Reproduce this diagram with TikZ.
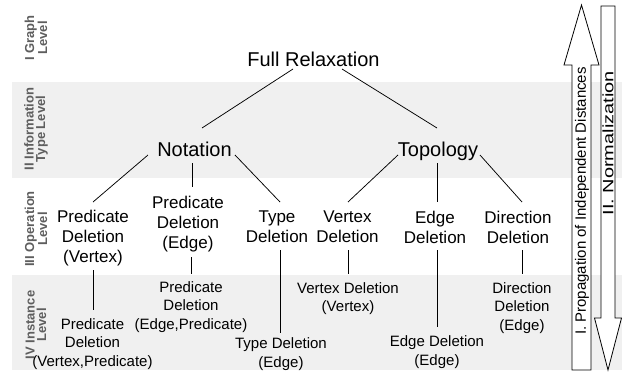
\documentclass[tikz,border=0pt]{standalone}
\usepackage{fontspec}
\setmainfont{Liberation Sans}
\definecolor{bandfill}{HTML}{F0F0F0}
\definecolor{levelgray}{HTML}{5E5E5E}
\begin{document}
\begin{tikzpicture}[x=1pt,y=-1pt,
  toplabel/.style={font=\fontsize{20}{24}\selectfont, inner sep=0pt, text height=14.4pt, text depth=4.2pt},
  oplabel/.style={font=\fontsize{17}{20}\selectfont, align=center, inner sep=0pt},
  instlabel/.style={font=\fontsize{15}{18.5}\selectfont, align=center, inner sep=0pt},
  levellabel/.style={font=\fontsize{13}{11.5}\selectfont\bfseries, text=levelgray, align=center, rotate=90, inner sep=0pt},
  link/.style={line width=0.75pt},
  bigarrow/.style={draw, fill=white, line width=0.8pt, line join=miter},
  arrowtext/.style={font=\fontsize{15}{18}\selectfont, rotate=90, inner sep=0pt, anchor=east}]
\useasboundingbox (0,0) rectangle (622,375);

% shaded level bands
\fill[bandfill] (12,82) rectangle (622,178);
\fill[bandfill] (12,275) rectangle (622,370);

% level captions
\node[levellabel] (lvlI)   at (36,38)  {I Graph\\Level};
\node[levellabel] (lvlII)  at (36,129) {II Information\\Type Level};
\node[levellabel] (lvlIII) at (36,229) {III Operation\\Level};
\node[levellabel] (lvlIV)  at (36,325) {IV Instance\\Level};

% graph and information type levels
\node[toplabel] (full)     at (313.5,60.9) {Full Relaxation};
\node[toplabel] (notation) at (194.5,150.9) {Notation};
\node[toplabel] (topology) at (438,150.9) {Topology};

% operation level
\node[oplabel] (pdv)       at (93,238.5)  {Predicate\\Deletion\\(Vertex)};
\node[oplabel] (pde)       at (188,224.5) {Predicate\\Deletion\\(Edge)};
\node[oplabel] (typ)       at (277,227)   {Type\\Deletion};
\node[oplabel] (vtx)       at (347.5,227) {Vertex\\Deletion};
\node[oplabel] (edg)       at (435,227)   {Edge\\Deletion};
\node[oplabel] (dir)       at (518,227)   {Direction\\Deletion};

% instance level
\node[instlabel] (pdvp) at (92.5,344) {Predicate\\Deletion\\(Vertex,Predicate)};
\node[instlabel] (pdep) at (191,307)  {Predicate\\Deletion\\(Edge,Predicate)};
\node[instlabel] (type) at (281,354)  {Type Deletion\\(Edge)};
\node[instlabel] (vtxv) at (348,298.5) {Vertex Deletion\\(Vertex)};
\node[instlabel] (edge) at (437,352)  {Edge Deletion\\(Edge)};
\node[instlabel] (dire) at (522,308)  {Direction\\Deletion\\(Edge)};

% tree connectors
\draw[link] ([shift={(-20.5,8.1)}]full.center) -- ([shift={(7.5,-22.9)}]notation.center);
\draw[link] ([shift={(28.5,8.1)}]full.center) -- ([shift={(-1,-22.9)}]topology.center);

\draw[link] ([shift={(-46.5,4.1)}]notation.center) -- ([shift={(0,-36.5)}]pdv.center);
\draw[link] ([shift={(-2.5,12.1)}]notation.center) -- ([shift={(4,-37.5)}]pde.center);
\draw[link] ([shift={(40.5,4.1)}]notation.center) -- ([shift={(3,-25)}]typ.center);

\draw[link] ([shift={(-40,4.1)}]topology.center) -- ([shift={(0.5,-25)}]vtx.center);
\draw[link] ([shift={(-1,12.1)}]topology.center) -- ([shift={(2,-25)}]edg.center);
\draw[link] ([shift={(42,4.1)}]topology.center) -- ([shift={(4,-25)}]dir.center);

\draw[link] ([shift={(0,31.5)}]pdv.center) -- ([shift={(0.5,-34)}]pdvp.center);
\draw[link] ([shift={(3,32.5)}]pde.center) -- ([shift={(0,-33)}]pdep.center);
\draw[link] ([shift={(3,23)}]typ.center) -- ([shift={(-1,-21)}]type.center);
\draw[link] ([shift={(0.5,23)}]vtx.center) -- ([shift={(0,-24.5)}]vtxv.center);
\draw[link] ([shift={(2,23)}]edg.center) -- ([shift={(0,-25)}]edge.center);
\draw[link] ([shift={(4,23)}]dir.center) -- ([shift={(0,-34)}]dire.center);

% process arrows
\draw[bigarrow] (581.5,5) -- (599,65) -- (591,65) -- (591,370) -- (572,370) -- (572,65) -- (564,65) -- cycle;
\draw[bigarrow] (601,6) -- (615,6) -- (615,318) -- (621.5,318) -- (608,370) -- (594.5,318) -- (601,318) -- cycle;
\node[arrowtext] (propagation)   at (582,67) {I. Propagation of Independent Distances};
\node[arrowtext] (normalization) at (608,71) {\scalebox{1.33}[1]{II. Normalization}};
\end{tikzpicture}
\end{document}
